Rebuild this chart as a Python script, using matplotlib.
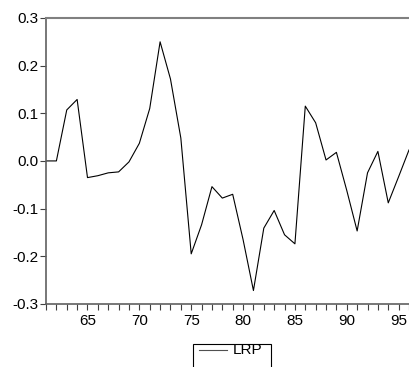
import matplotlib.pyplot as plt
from matplotlib.lines import Line2D
from matplotlib.patches import Rectangle

plt.rcParams["font.family"] = ["Liberation Sans", "DejaVu Sans"]

years = list(range(61, 97))
lrp = [0.0, 0.0, 0.107, 0.129, -0.035, -0.031, -0.025, -0.023, -0.002, 0.037,
       0.11, 0.25, 0.172, 0.048, -0.195, -0.134, -0.054, -0.078, -0.07, -0.165,
       -0.272, -0.141, -0.104, -0.155, -0.174, 0.115, 0.08, 0.002, 0.018, -0.062,
       -0.147, -0.025, 0.02, -0.088, -0.033, 0.023]
yticks = [-0.3, -0.2, -0.1, 0.0, 0.1, 0.2, 0.3]
xticks = [65, 70, 75, 80, 85, 90, 95]

fig = plt.figure(figsize=(4.09, 3.67), dpi=100)
ax = fig.add_axes([0.1125, 0.172, 0.8875, 0.779])
ax.plot(years, lrp, color="black", lw=0.8)

ax.set_xlim(61, 96)
ax.set_ylim(-0.3, 0.3)
ax.set_yticks(yticks)
ax.set_yticklabels([f"{v:.1f}" for v in yticks])
ax.set_xticks(xticks)
ax.set_xticks(years, minor=True)
ax.tick_params(axis="both", labelsize=11, length=4, width=0.8, color="#404040", pad=1.5)
ax.tick_params(axis="x", which="minor", length=4, width=0.8, color="#404040")
ax.tick_params(axis="x", pad=3)

for side in ("left", "bottom"):
    ax.spines[side].set_color("#606060")
    ax.spines[side].set_linewidth(1.2)
ax.spines["right"].set_visible(False)
ax.spines["top"].set_color("#808080")
ax.spines["top"].set_linewidth(1.5)

# legend box below the plot
fig.patches.append(Rectangle((193 / 409, -0.02), 78 / 409, 0.083,
                             transform=fig.transFigure, fill=False,
                             edgecolor="black", lw=0.8))
fig.lines.append(Line2D([199 / 409, 227 / 409], [0.045, 0.045],
                        transform=fig.transFigure, color="#505050", lw=0.8))
fig.text(233 / 409, 0.045, "LRP", fontsize=11, va="center", ha="left")

fig.savefig("out.png", dpi=100)
